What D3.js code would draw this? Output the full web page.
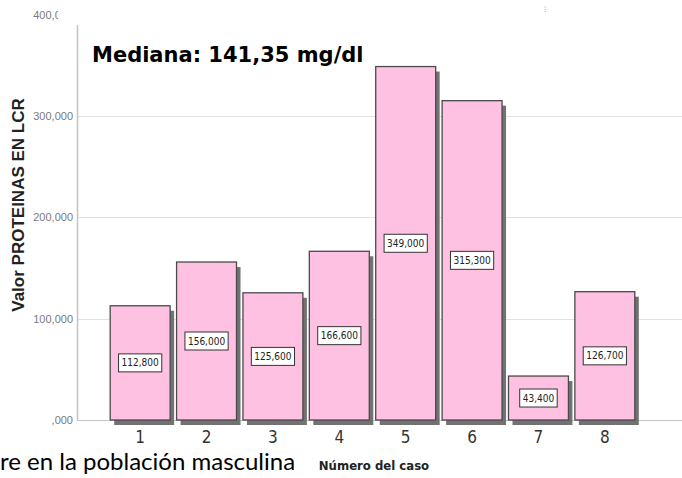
<!DOCTYPE html>
<html lang="es">
<head>
  <meta charset="UTF-8">
  <title>Proteinas en LCR</title>
  <script src="https://cdn.jsdelivr.net/npm/d3@7"></script>
  <style>
    html, body { margin: 0; padding: 0; background: #fff; }
    svg { display: block; }
  </style>
</head>
<body>
<svg></svg>
<script>
  const width = 682, height = 478

  // datos (mg/dl)
  const casos = ['1', '2', '3', '4', '5', '6', '7', '8']
  const proteinas = [112.8, 156.0, 125.6, 166.6, 349.0, 315.3, 43.4, 126.7]
  const yTicks = [0, 100, 200, 300, 400]
  const mediana = '141,35'

  const svg = d3.select('svg')
      .attr('width', width)
      .attr('height', height)

  const es = d3.formatLocale({decimal: ',', thousands: '.', grouping: [3], currency: ['', '']})
  const fmt3 = es.format('.3f')
  // SPSS no pone el cero inicial: ",000"
  const fmt = v => v < 1 ? fmt3(v).replace(/^0/, '') : fmt3(v)

  const x = d3.scaleBand()
      .domain(casos)
      .range([77, 668])
      .paddingInner(0.097)
      .paddingOuter(0.5)

  const y = d3.scaleLinear()
      .domain([0, 400])
      .range([420, 14.9])

  // recorte para la etiqueta 400 (cortada en la imagen)
  const defs = svg.append('defs')
  const clip = defs.append('clipPath').attr('id', 'clipTicks')
  clip.append('rect').attr('x', 0).attr('y', 0).attr('width', 58).attr('height', 25)
  clip.append('rect').attr('x', 0).attr('y', 25).attr('width', width).attr('height', height - 25)

  // lineas de cuadricula
  svg.append('g')
      .selectAll('line')
      .data(yTicks.filter(d => d > 0 && y(d) > 25))
      .join('line')
      .attr('x1', 78).attr('x2', width)
      .attr('y1', d => Math.round(y(d)) + 0.5).attr('y2', d => Math.round(y(d)) + 0.5)
      .attr('stroke', '#e2e2e2')

  // eje y con d3.axisLeft, sin dominio (el clip va en un grupo exterior sin traslado)
  const yAxis = svg.append('g')
      .attr('clip-path', 'url(#clipTicks)')
      .append('g')
      .attr('transform', 'translate(73,0)')
      .call(d3.axisLeft(y).tickValues(yTicks).tickFormat(fmt).tickSize(0).tickPadding(0))
  yAxis.select('.domain').remove()
  yAxis.selectAll('text')
      .attr('fill', '#7a7a7a')
      .style('font-family', '"Liberation Sans", Arial, sans-serif')
      .style('font-size', '11px')

  // linea base y linea del eje
  svg.append('line')
      .attr('x1', 77.5).attr('x2', 77.5).attr('y1', 25).attr('y2', y(0))
      .attr('stroke', '#c4c4c4').attr('stroke-width', 1.5)
  svg.append('line')
      .attr('x1', 77).attr('x2', width).attr('y1', y(0) + 0.5).attr('y2', y(0) + 0.5)
      .attr('stroke', '#c4c4c4').attr('stroke-width', 1.2)

  const data = casos.map((c, i) => ({caso: c, valor: proteinas[i]}))

  // sombras
  svg.append('g')
      .selectAll('rect')
      .data(data)
      .join('rect')
      .attr('x', d => x(d.caso) + 4)
      .attr('y', d => y(d.valor) + 5)
      .attr('width', x.bandwidth())
      .attr('height', d => y(0) - y(d.valor))
      .attr('fill', '#727272')

  // barras
  svg.append('g')
      .selectAll('rect')
      .data(data)
      .join('rect')
      .attr('x', d => x(d.caso))
      .attr('y', d => y(d.valor))
      .attr('width', x.bandwidth())
      .attr('height', d => y(0) - y(d.valor))
      .attr('fill', '#ffc1e1')
      .attr('stroke', '#4a4a4a')
      .attr('stroke-width', 1.3)

  // etiquetas de valor con caja blanca
  const lab = svg.append('g')
      .selectAll('g')
      .data(data)
      .join('g')
      .attr('transform', d => `translate(${x(d.caso) + x.bandwidth() / 2},${(y(d.valor) + y(0)) / 2})`)
  lab.append('text')
      .attr('text-anchor', 'middle')
      .attr('dy', '0.36em')
      .attr('fill', '#222')
      .style('font-family', '"DejaVu Sans Condensed", "DejaVu Sans", sans-serif')
      .style('font-size', '10px')
      .text(d => fmt(d.valor))
  lab.insert('rect', 'text')
      .each(function () {
        const w = this.parentNode.querySelector('text').getComputedTextLength() + 6
        d3.select(this).attr('x', -w / 2).attr('width', w)
      })
      .attr('y', -9).attr('height', 18)
      .attr('fill', '#fff')
      .attr('stroke', '#333')
      .attr('stroke-width', 1)

  // etiquetas del eje x
  const xAxis = svg.append('g')
      .attr('transform', `translate(0,${y(0)})`)
      .call(d3.axisBottom(x).tickSize(0).tickPadding(0))
  xAxis.select('.domain').remove()
  xAxis.selectAll('text')
      .attr('dy', null)
      .attr('y', 23)
      .attr('fill', '#333')
      .style('font-family', '"Liberation Sans Narrow", "DejaVu Sans Condensed", sans-serif')
      .style('font-size', '17px')

  // titulo eje y
  svg.append('text')
      .attr('transform', 'translate(24,205) rotate(-90)')
      .attr('text-anchor', 'middle')
      .attr('fill', '#222')
      .style('font-family', '"Liberation Sans", Arial, sans-serif')
      .style('font-weight', 'bold')
      .style('font-size', '17px')
      .text('Valor PROTEINAS EN LCR')

  // titulo eje x
  svg.append('text')
      .attr('x', 374).attr('y', 470)
      .attr('text-anchor', 'middle')
      .attr('fill', '#222')
      .style('font-family', '"Liberation Sans Narrow", "DejaVu Sans Condensed", sans-serif')
      .style('font-weight', 'bold')
      .style('font-size', '13px')
      .text('Número del caso')

  // anotacion mediana
  svg.append('text')
      .attr('x', 92).attr('y', 62)
      .attr('fill', '#000')
      .style('font-family', '"DejaVu Sans", sans-serif')
      .style('font-weight', 'bold')
      .style('font-size', '21px')
      .text(`Mediana: ${mediana} mg/dl`)

  // pie de figura (cortado a la izquierda)
  svg.append('text')
      .attr('x', 0).attr('y', 470)
      .attr('fill', '#000')
      .style('font-family', 'Lato, "Open Sans", sans-serif')
      .style('font-size', '24px')
      .text('re en la población masculina')

  // pequeña marca arriba
  svg.append('text')
      .attr('x', 544).attr('y', 12)
      .attr('fill', '#999')
      .style('font-size', '8px')
      .text('⁝')
</script>
</body>
</html>
